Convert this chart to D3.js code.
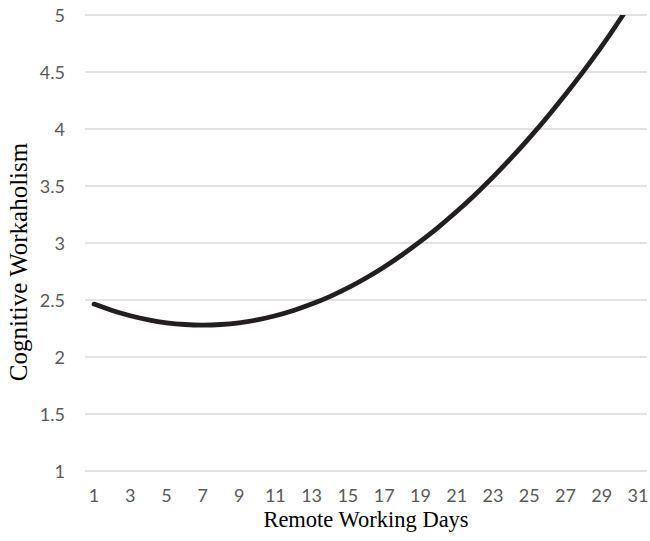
<!DOCTYPE html>
<html>
<head>
<meta charset="utf-8">
<script src="https://cdn.jsdelivr.net/npm/d3@7"></script>
<style>
  html, body { margin: 0; padding: 0; background: #fff; }
  svg { display: block; }
</style>
</head>
<body>
<svg id="chart" width="650" height="541"></svg>
<script>
// Data
const days = d3.range(1, 32);
const workaholism = [
  2.464, 2.408, 2.362, 2.326, 2.300, 2.285, 2.280, 2.285, 2.300, 2.326,
  2.362, 2.408, 2.464, 2.530, 2.606, 2.693, 2.790, 2.897, 3.014, 3.140,
  3.276, 3.422, 3.578, 3.744, 3.920, 4.106, 4.302, 4.508, 4.724, 4.958, 5.200
];
const yTicks = [1, 1.5, 2, 2.5, 3, 3.5, 4, 4.5, 5];
const xTickLabels = days.filter(d => d % 2 === 1);
const xTitle = "Remote Working Days";
const yTitle = "Cognitive Workaholism";

const svg = d3.select("#chart");
const mLeft = 85, mRight = 647, mTop = 15, mBottom = 471;

const x = d3.scaleBand().domain(days).range([mLeft, mRight]).padding(0);
const y = d3.scaleLinear().domain([1, 5]).range([mBottom, mTop]);

// Gridlines
svg.append("g")
  .selectAll("line")
  .data(yTicks)
  .join("line")
  .attr("x1", mLeft).attr("x2", mRight)
  .attr("y1", d => y(d)).attr("y2", d => y(d))
  .attr("stroke", "#d9d9d9")
  .attr("stroke-width", 1.3);

// Y axis labels
const yAxis = d3.axisLeft(y).tickValues(yTicks).tickSize(0).tickPadding(0)
  .tickFormat(d => String(d));
svg.append("g")
  .attr("transform", `translate(65,0)`)
  .call(yAxis)
  .call(g => g.select(".domain").remove())
  .call(g => g.selectAll("text")
    .attr("font-family", "Lato, 'Open Sans', sans-serif")
    .attr("font-size", 18)
    .attr("fill", "#595959")
    .attr("dy", "0.35em"));

// X axis labels
const xAxis = d3.axisBottom(x).tickValues(xTickLabels).tickSize(0).tickPadding(0);
svg.append("g")
  .attr("transform", `translate(0,${mBottom})`)
  .call(xAxis)
  .call(g => g.select(".domain").remove())
  .call(g => g.selectAll("text")
    .attr("font-family", "Lato, 'Open Sans', sans-serif")
    .attr("font-size", 18)
    .attr("fill", "#595959")
    .attr("y", 0)
    .attr("dy", "31px"));

// Clip
svg.append("clipPath").attr("id", "plotclip")
  .append("rect")
  .attr("x", 0).attr("y", mTop)
  .attr("width", 650).attr("height", 541 - mTop);

// Line
const line = d3.line()
  .x((d, i) => x(days[i]) + x.bandwidth() / 2)
  .y(d => y(d))
  .curve(d3.curveNatural);

svg.append("path")
  .datum(workaholism)
  .attr("clip-path", "url(#plotclip)")
  .attr("d", line)
  .attr("fill", "none")
  .attr("stroke", "#231f20")
  .attr("stroke-width", 4.8)
  .attr("stroke-linecap", "round");

// Titles
svg.append("text")
  .attr("x", 366)
  .attr("y", 527)
  .attr("text-anchor", "middle")
  .attr("font-family", "'Liberation Serif', 'Times New Roman', serif")
  .attr("font-size", 22.5)
  .attr("fill", "#000")
  .text(xTitle);

svg.append("text")
  .attr("transform", `translate(27,262) rotate(-90)`)
  .attr("text-anchor", "middle")
  .attr("font-family", "'Liberation Serif', 'Times New Roman', serif")
  .attr("font-size", 25)
  .attr("fill", "#000")
  .text(yTitle);
</script>
</body>
</html>
